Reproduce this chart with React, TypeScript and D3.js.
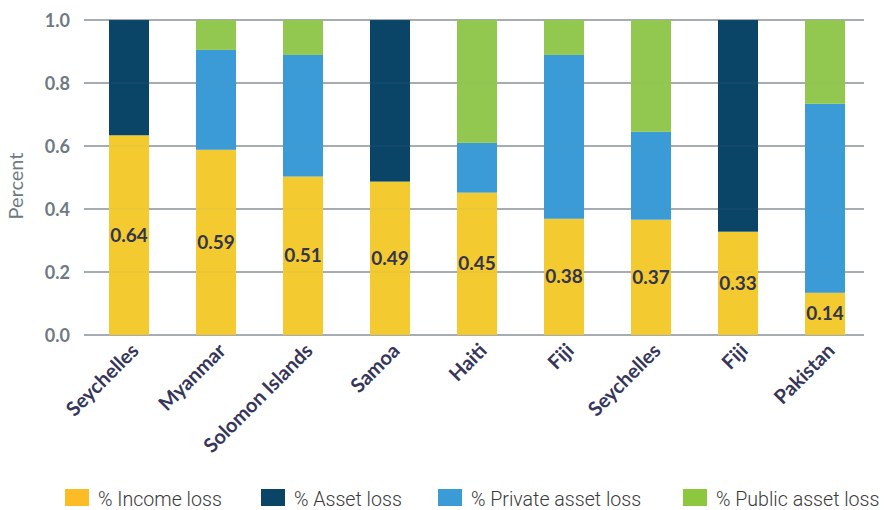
import React from "react";
import * as d3 from "d3";

const categories = ["Seychelles", "Myanmar", "Solomon Islands", "Samoa", "Haiti", "Fiji", "Seychelles", "Fiji", "Pakistan"];
const incomeLoss = [0.634, 0.588, 0.503, 0.487, 0.452, 0.369, 0.366, 0.328, 0.134];
const assetLoss = [0.366, 0, 0, 0.513, 0, 0, 0, 0.672, 0];
const privateAssetLoss = [0, 0.317, 0.386, 0, 0.158, 0.52, 0.279, 0, 0.6];
const publicAssetLoss = [0, 0.095, 0.111, 0, 0.39, 0.111, 0.355, 0, 0.266];
const barLabels = ["0.64", "0.59", "0.51", "0.49", "0.45", "0.38", "0.37", "0.33", "0.14"];
const yTicks = [0, 0.2, 0.4, 0.6, 0.8, 1.0];
const seriesNames = ["% Income loss", "% Asset loss", "% Private asset loss", "% Public asset loss"];

const barColors = ["#F3CA2F", "#0A4568", "#3A9BD6", "#93C850"];
const legendColors = ["#FBBC25", "#0A4568", "#3A9BD6", "#8DC63F"];

const W = 884;
const H = 510;

export default function App() {
  const x = d3
    .scaleBand<number>()
    .domain(categories.map((_, i) => i))
    .range([85.5, 868.5])
    .paddingInner(0.54)
    .paddingOuter(0.27);
  const y = d3.scaleLinear().domain([0, 1]).range([335, 20]);

  const rows = categories.map((c, i) => ({
    i,
    income: incomeLoss[i],
    asset: assetLoss[i],
    priv: privateAssetLoss[i],
    pub: publicAssetLoss[i],
  }));
  const stack = d3.stack<any>().keys(["income", "asset", "priv", "pub"]);
  const series = stack(rows);

  const legendX = [65, 261, 438, 683];

  return (
    <svg
      width={W}
      height={H}
      style={{ position: "absolute", left: 0, top: 0, background: "#fff" }}
    >
      {yTicks.map((t) => (
        <g key={t}>
          <line x1={84} x2={864} y1={y(t)} y2={y(t)} stroke="#8A949B" strokeWidth={1.3} />
          <text
            x={70}
            y={y(t) + 6.5}
            textAnchor="end"
            fontFamily="Lato"
            fontWeight={700}
            fontSize={18}
            fill="#6E7A82"
          >
            {t.toFixed(1)}
          </text>
        </g>
      ))}
      <text
        transform={`translate(23,186) rotate(-90)`}
        textAnchor="middle"
        fontFamily="Lato"
        fontSize={20}
        fill="#6E7A82"
      >
        Percent
      </text>
      {series.map((s, si) =>
        s.map((d, i) =>
          d[1] - d[0] > 0 ? (
            <rect
              key={`${si}-${i}`}
              x={x(i)}
              width={x.bandwidth()}
              y={y(d[1])}
              height={y(d[0]) - y(d[1])}
              fill={barColors[si]}
            />
          ) : null
        )
      )}
      {yTicks.map((t) => (
        <line key={"o" + t} x1={84} x2={864} y1={y(t)} y2={y(t)} stroke="#8A949B" strokeWidth={1} opacity={0.12} />
      ))}
      {rows.map((r) => (
        <text
          key={"l" + r.i}
          x={(x(r.i) as number) + x.bandwidth() / 2}
          y={y(r.income / 2) + 6.5}
          textAnchor="middle"
          fontFamily="Lato"
          fontWeight={700}
          fontSize={19}
          fill="#33354F"
        >
          {barLabels[r.i]}
        </text>
      ))}
      {categories.map((c, i) => (
        <text
          key={"c" + i}
          transform={`translate(${(x(i) as number) + x.bandwidth() / 2 + 11},352) rotate(-45)`}
          textAnchor="end"
          fontFamily="Lato"
          fontWeight={700}
          fontSize={20}
          fill="#35365A"
        >
          {c}
        </text>
      ))}
      {seriesNames.map((n, i) => (
        <g key={"lg" + i}>
          <rect x={legendX[i]} y={489} width={24} height={17} fill={legendColors[i]} />
          <text
            x={legendX[i] + 33}
            y={506}
            fontFamily="Roboto"
            fontWeight={300}
            fontSize={19.6}
            fill="#3A3A3A"
          >
            {n}
          </text>
        </g>
      ))}
    </svg>
  );
}
